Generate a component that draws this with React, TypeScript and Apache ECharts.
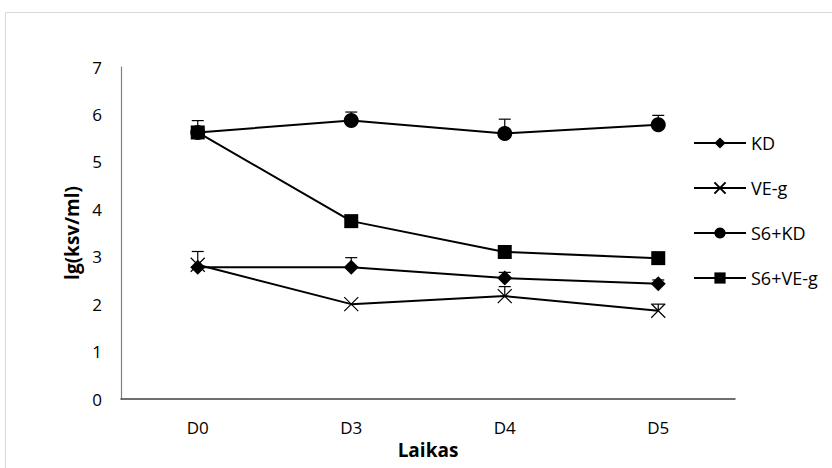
import React, { useEffect, useRef } from "react";
import * as echarts from "echarts";

const categories = ["D0", "D3", "D4", "D5"];
const seriesNames = ["KD", "VE-g", "S6+KD", "S6+VE-g"];
const kd = [2.78, 2.78, 2.55, 2.43];
const veg = [2.83, 2.0, 2.17, 1.86];
const s6kd = [5.62, 5.87, 5.6, 5.78];
const s6veg = [5.62, 3.75, 3.1, 2.97];
const kdErr = [0, 0.2, 0.12, 0.08];
const vegErr = [0.28, 0, 0.2, 0.14];
const s6kdErr = [0.25, 0.18, 0.3, 0.2];
const s6vegErr = [0, 0, 0, 0];
const yTicks = [0, 1, 2, 3, 4, 5, 6, 7];

const FONT = "Open Sans";

function errData(vals: number[], errs: number[]) {
  return vals
    .map((v, i) => [i, v, v + errs[i]])
    .filter((d) => d[2] > d[1]);
}

function errSeries(vals: number[], errs: number[]) {
  return {
    type: "custom",
    data: errData(vals, errs),
    z: 1,
    silent: true,
    renderItem: (params: any, api: any) => {
      const x = api.value(0);
      const p0 = api.coord([x, api.value(1)]);
      const p1 = api.coord([x, api.value(2)]);
      const w = 6;
      return {
        type: "group",
        children: [
          {
            type: "line",
            shape: { x1: p0[0], y1: p0[1], x2: p1[0], y2: p1[1] },
            style: { stroke: "#000", lineWidth: 1.2 },
          },
          {
            type: "line",
            shape: { x1: p1[0] - w, y1: p1[1], x2: p1[0] + w, y2: p1[1] },
            style: { stroke: "#000", lineWidth: 1.2 },
          },
        ],
      };
    },
  };
}

const crossPath = "path://M0,0L10,10M10,0L0,10";

export default function App() {
  const ref = useRef<HTMLDivElement>(null);
  useEffect(() => {
    if (!ref.current) return;
    const chart = echarts.init(ref.current, undefined, { renderer: "svg" });
    const lineBase = (name: string, data: number[], symbol: string, size: number, extra: any = {}) => ({
      name,
      type: "line",
      data,
      symbol,
      symbolSize: size,
      z: 3,
      lineStyle: { color: "#000", width: 2 },
      itemStyle: { color: "#000", borderColor: "#000", borderWidth: 0 },
      ...extra,
    });
    chart.setOption({
      animation: false,
      backgroundColor: "#fff",
      textStyle: { fontFamily: FONT },
      graphic: [
        {
          type: "rect",
          shape: { x: 5.5, y: 12.5, width: 900, height: 600 },
          style: { fill: "none", stroke: "#d9d9d9", lineWidth: 1 },
          silent: true,
        },
      ],
      grid: { left: 121, right: 97, top: 67, bottom: 69, containLabel: false },
      legend: {
        orient: "vertical",
        left: 688,
        top: 129,
        itemWidth: 52,
        itemHeight: 14,
        itemGap: 27,
        data: seriesNames,
        textStyle: { fontFamily: FONT, fontSize: 18, color: "#000" },
      },
      xAxis: {
        type: "category",
        data: categories,
        boundaryGap: true,
        axisLine: { lineStyle: { color: "#404040", width: 1.5 } },
        axisTick: { show: false },
        axisLabel: { fontFamily: FONT, fontSize: 17, color: "#000", margin: 20 },
        name: "Laikas",
        nameLocation: "middle",
        nameGap: 39,
        nameTextStyle: { fontFamily: FONT, fontSize: 19, fontWeight: "bold", color: "#000" },
      },
      yAxis: {
        type: "value",
        min: 0,
        max: 7,
        interval: 1,
        splitLine: { show: false },
        axisLine: { show: true, lineStyle: { color: "#808080", width: 1.2 } },
        axisTick: { show: false },
        axisLabel: { fontFamily: FONT, fontSize: 17, color: "#000", margin: 19 },
        name: "lg(ksv/ml)",
        nameLocation: "middle",
        nameGap: 39,
        nameTextStyle: { fontFamily: FONT, fontSize: 19, fontWeight: "bold", color: "#000" },
      },
      series: [
        lineBase("KD", kd, "diamond", 15),
        lineBase("VE-g", veg, crossPath, 14, {
          itemStyle: { color: "none", borderColor: "#000", borderWidth: 1.2 },
        }),
        lineBase("S6+KD", s6kd, "circle", 15),
        lineBase("S6+VE-g", s6veg, "rect", 14),
        errSeries(kd, kdErr),
        errSeries(veg, vegErr),
        errSeries(s6kd, s6kdErr),
        errSeries(s6veg, s6vegErr),
      ],
    });
    return () => chart.dispose();
  }, []);
  return (
    <div
      ref={ref}
      style={{ position: "fixed", left: 0, top: 0, width: 832, height: 468 }}
    />
  );
}
